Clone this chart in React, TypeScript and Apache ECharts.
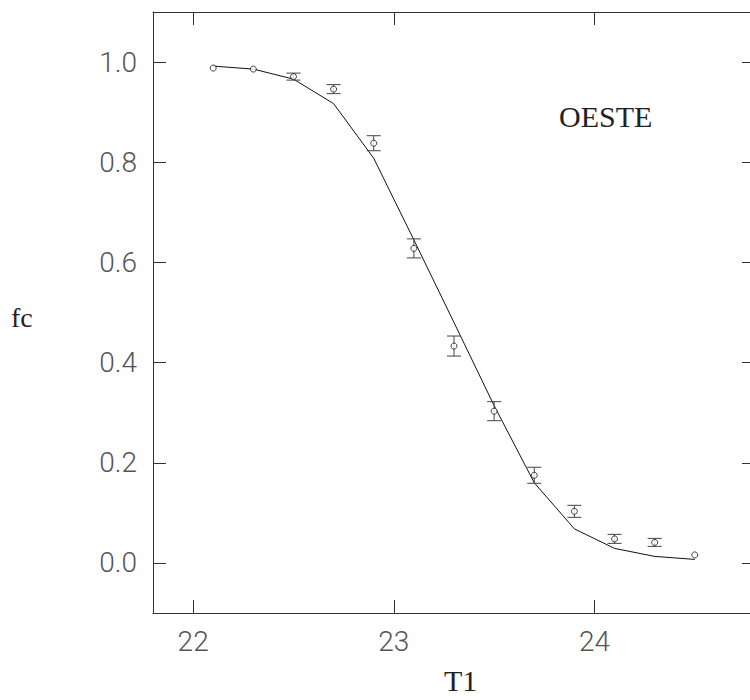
import React, { useEffect, useRef } from "react";
import * as echarts from "echarts";

// Observed fraction fc versus T1, with uncertainties, and the fitted curve
const t1 = [22.1, 22.3, 22.5, 22.7, 22.9, 23.1, 23.3, 23.5, 23.7, 23.9, 24.1, 24.3, 24.5];
const fcObs = [0.988, 0.986, 0.971, 0.946, 0.838, 0.628, 0.433, 0.303, 0.175, 0.103, 0.048, 0.041, 0.016];
const fcErr = [0, 0, 0.007, 0.009, 0.015, 0.019, 0.02, 0.019, 0.016, 0.012, 0.009, 0.008, 0];
const fcFit = [0.992, 0.986, 0.966, 0.917, 0.808, 0.645, 0.48, 0.314, 0.16, 0.068, 0.029, 0.013, 0.007];

const xTicks = [22, 23, 24];
const yTicks = [0, 0.2, 0.4, 0.6, 0.8, 1.0];

const panelLabel = "OESTE";
const xName = "T1";
const yName = "fc";

const axisColor = "#333";
const tickFont = { fontFamily: "Roboto", fontWeight: 300 as any, fontSize: 28, color: "#555" };
const serifFont = "Liberation Serif";

export default function App() {
  const ref = useRef<HTMLDivElement>(null);

  useEffect(() => {
    if (!ref.current) return;
    // the frame runs a little past the right edge of the window
    document.documentElement.style.overflow = "hidden";
    document.body.style.overflow = "hidden";
    const chart = echarts.init(ref.current, undefined, { renderer: "svg" });

    const baseX = {
      type: "value" as const,
      min: 21.8,
      max: 24.8,
      splitLine: { show: false },
      axisLine: { show: true, onZero: false, lineStyle: { color: axisColor, width: 1 } },
      axisTick: { show: true, inside: true, length: 13, customValues: xTicks, lineStyle: { color: axisColor } },
    };
    const baseY = {
      type: "value" as const,
      min: -0.1,
      max: 1.1,
      splitLine: { show: false },
      axisLine: { show: true, onZero: false, lineStyle: { color: axisColor, width: 1 } },
      axisTick: { show: true, inside: true, length: 13, customValues: yTicks, lineStyle: { color: axisColor } },
    };

    chart.setOption({
      animation: false,
      backgroundColor: "#fff",
      grid: {
        left: 153,
        top: 12,
        width: 602,
        height: 601,
        containLabel: false,
        outerBoundsMode: "none",
      },
      xAxis: [
        {
          ...baseX,
          position: "bottom",
          axisLabel: { ...tickFont, margin: 14, customValues: xTicks, formatter: (v: number) => String(v) },
        },
        { ...baseX, position: "top", axisLabel: { show: false } },
      ],
      yAxis: [
        {
          ...baseY,
          position: "left",
          axisLabel: { ...tickFont, margin: 16, customValues: yTicks, formatter: (v: number) => v.toFixed(1) },
        },
        {
          ...baseY,
          position: "right",
          axisLine: { show: false },
          axisLabel: { show: false },
        },
      ],
      series: [
        {
          type: "line",
          data: t1.map((x, i) => [x, fcFit[i]]),
          showSymbol: false,
          lineStyle: { color: "#111", width: 1 },
          z: 2,
        },
        {
          type: "custom",
          data: t1.map((x, i) => [x, fcObs[i] - fcErr[i], fcObs[i] + fcErr[i]]),
          renderItem: (params: any, api: any) => {
            const x = api.value(0);
            const lo = api.value(1);
            const hi = api.value(2);
            if (hi - lo <= 0) return null;
            const top = api.coord([x, hi]);
            const bot = api.coord([x, lo]);
            const hw = 7;
            const st = { stroke: "#444", lineWidth: 1 };
            return {
              type: "group",
              children: [
                { type: "line", shape: { x1: top[0], y1: top[1], x2: bot[0], y2: bot[1] }, style: st },
                { type: "line", shape: { x1: top[0] - hw, y1: top[1], x2: top[0] + hw, y2: top[1] }, style: st },
                { type: "line", shape: { x1: bot[0] - hw, y1: bot[1], x2: bot[0] + hw, y2: bot[1] }, style: st },
              ],
            };
          },
          z: 3,
        },
        {
          type: "scatter",
          data: t1.map((x, i) => [x, fcObs[i]]),
          symbol: "circle",
          symbolSize: 6,
          itemStyle: { color: "#fff", borderColor: "#111", borderWidth: 1 },
          z: 4,
        },
      ],
      graphic: [
        {
          type: "text",
          left: 11,
          top: 303,
          style: { text: yName, font: `28px '${serifFont}'`, fill: "#222" },
        },
        {
          type: "text",
          left: 444,
          top: 665,
          style: { text: xName, font: `30px '${serifFont}'`, fill: "#222" },
        },
        {
          type: "text",
          left: 559,
          top: 101,
          style: { text: panelLabel, font: `30px '${serifFont}'`, fill: "#222" },
        },
      ],
    });

    return () => chart.dispose();
  }, []);

  return (
    <div
      ref={ref}
      style={{ position: "absolute", left: 0, top: 0, width: 760, height: 700, background: "#fff" }}
    />
  );
}
